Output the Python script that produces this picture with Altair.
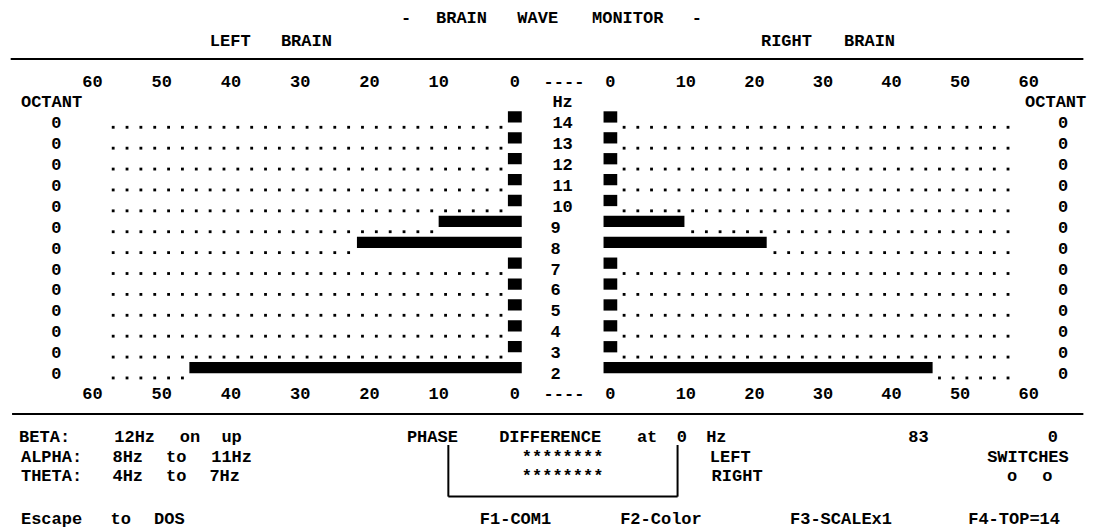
import altair as alt
import pandas as pd

hz = [14, 13, 12, 11, 10, 9, 8, 7, 6, 5, 4, 3, 2]
left_amp = [0, 0, 0, 0, 0, 11, 22.8, 0, 0, 0, 0, 0, 47]
right_amp = [0, 0, 0, 0, 0, 10.8, 22.8, 0, 0, 0, 0, 0, 47]
left_octant = [0, 0, 0, 0, 0, 0, 0, 0, 0, 0, 0, 0, 0]
right_octant = [0, 0, 0, 0, 0, 0, 0, 0, 0, 0, 0, 0, 0]
scale_ticks = [60, 50, 40, 30, 20, 10, 0]
dot_marks = [2, 4, 6, 8, 10, 12, 14, 16, 18, 20, 22, 24, 26, 28, 30,
             32, 34, 36, 38, 40, 42, 44, 46, 48, 50, 52, 54, 56, 58]

# ---------------- screen layout (text-mode columns / rows) ----------------
L0, LK = 36.45, 0.5      # left-brain zero column, columns per unit
R0, RK = 43.35, 0.495    # right-brain zero column, columns per unit
FONT = "Liberation Mono"
FS = 17

XS = alt.Scale(domain=[-0.1444, 78.34], nice=False, zero=False)
YS = alt.Scale(domain=[-5.516, 19.52], nice=False, zero=False)

# text lines: (string, start column, row)
lines = [
    ("- BRAIN WAVE MONITOR -", 28.1, 19.04),
    ("LEFT BRAIN", 13.9, 17.94),
    ("RIGHT BRAIN", 53.56, 17.94),
    ("OCTANT", 0.0, 15.0),
    ("Hz", 38.9, 15.0),
    ("OCTANT", 72.5, 15.0),
    ("BETA:  12Hz on up", 0.0, -1.016),
    ("ALPHA: 8Hz to 11Hz", 0.0, -1.95),
    ("THETA: 4Hz to 7Hz", 0.0, -2.88),
    ("PHASE DIFFERENCE at 0 Hz", 28.0, -1.016),
    ("83", 64.6, -1.016),
    ("0", 74.8, -1.016),
    ("********", 35.9, -1.95),
    ("LEFT", 50.0, -1.95),
    ("SWITCHES", 69.5, -1.95),
    ("********", 35.9, -2.88),
    ("RIGHT", 50.0, -2.88),
    ("o", 71.85, -2.88),
    ("o", 74.4, -2.88),
    ("Escape to DOS", 0.0, -4.94),
    ("F1-COM1", 33.0, -4.94),
    ("F2-Color", 43.0, -4.94),
    ("F3-SCALEx1", 55.0, -4.94),
    ("F4-TOP=14", 68.0, -4.94),
]

rows = []
for s, c0, r in lines:
    i = 0
    for w in s.split(" "):
        if w:
            rows.append({"text": w, "xc": c0 + i + len(w) / 2, "yh": r})
        i += len(w) + 1

# scale labels (top and bottom)
for r in (15.98, 1.02):
    for t in scale_ticks:
        n = len(str(t))
        rows.append({"text": str(t), "xc": L0 - LK * t - (n - 1) / 2, "yh": r})
        rows.append({"text": str(t), "xc": R0 + RK * t + (n - 1) / 2, "yh": r})
    rows.append({"text": "----", "xc": 40.0, "yh": r})

# Hz labels and octant columns
for h, lo, ro in zip(hz, left_octant, right_octant):
    rows.append({"text": str(h), "xc": 38.9 + len(str(h)) / 2, "yh": h})
    rows.append({"text": str(lo), "xc": 3.35, "yh": h})
    rows.append({"text": str(ro), "xc": 76.03, "yh": h})

text_df = pd.DataFrame(rows)

# frame lines: top/bottom separators and the phase box
frame = pd.DataFrame([
    {"x": 0.05, "x2": 77.5, "y": 17.08, "y2": 17.08},
    {"x": 0.15, "x2": 77.5, "y": 0.085, "y2": 0.085},
    {"x": 31.65, "x2": 31.65, "y": -1.40, "y2": -3.87},
    {"x": 48.2, "x2": 48.2, "y": -1.40, "y2": -3.87},
    {"x": 31.65, "x2": 48.2, "y": -3.87, "y2": -3.87},
])

bars_df = pd.DataFrame(
    [{"side": "L", "hz": h, "amp": a} for h, a in zip(hz, left_amp)]
    + [{"side": "R", "hz": h, "amp": a} for h, a in zip(hz, right_amp)]
)

dots_df = pd.DataFrame(
    [{"side": "L", "hz": h, "amp": a, "v": v} for h, a in zip(hz, left_amp) for v in dot_marks]
    + [{"side": "R", "hz": h, "amp": a, "v": v} for h, a in zip(hz, right_amp) for v in dot_marks]
)

# ---------------- chart ----------------
rules = alt.Chart(frame).mark_rule(color="black", strokeWidth=2).encode(
    x=alt.X("x:Q", scale=XS, axis=None),
    x2="x2:Q",
    y=alt.Y("y:Q", scale=YS, axis=None),
    y2="y2:Q",
)

bars = alt.Chart(bars_df).transform_calculate(
    xa=f"datum.side == 'L' ? {L0} + {LK} : {R0} - {RK}",
    xb=f"datum.side == 'L' ? {L0} - {LK} * max(datum.amp, 1) : {R0} + {RK} * max(datum.amp, 1)",
    ya="datum.hz + 0.035",
    yb="datum.hz + 0.575",
).mark_rect(color="black").encode(
    x=alt.X("xa:Q", scale=XS, axis=None),
    x2="xb:Q",
    y=alt.Y("ya:Q", scale=YS, axis=None),
    y2="yb:Q",
)

dots = alt.Chart(dots_df).transform_filter(
    "datum.v > max(datum.amp, 1)"
).transform_calculate(
    xd=f"datum.side == 'L' ? {L0} - {LK} * datum.v : {R0} + {RK} * datum.v",
    yd="datum.hz - 0.19",
).mark_square(color="black", size=8, opacity=1).encode(
    x=alt.X("xd:Q", scale=XS, axis=None),
    y=alt.Y("yd:Q", scale=YS, axis=None),
)

texts = alt.Chart(text_df).mark_text(
    font=FONT, fontSize=FS, fontWeight="bold", align="center",
    baseline="middle", color="black",
).encode(
    x=alt.X("xc:Q", scale=XS, axis=None),
    y=alt.Y("yh:Q", scale=YS, axis=None),
    text="text:N",
)

chart = alt.layer(rules, bars, dots, texts).properties(
    width=1087, height=523, padding=0,
    autosize=alt.AutoSizeParams(type="none"),
    background="white",
).configure_view(stroke=None)

chart.save("out.html", embed_options={"renderer": "svg", "actions": False})
